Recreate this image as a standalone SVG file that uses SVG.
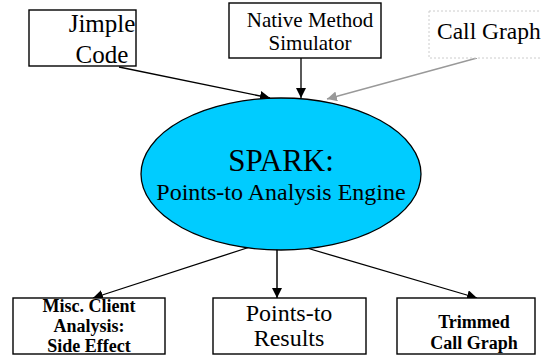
<svg xmlns="http://www.w3.org/2000/svg" width="541" height="356" viewBox="0 0 541 356">
<defs>
<style>
.box{fill:#fff;stroke:#000;stroke-width:1.4}
text{font-family:"Liberation Serif","Times New Roman",serif;fill:#000;text-anchor:middle}
text.st{text-anchor:start}
.b{font-weight:bold}
.edge{stroke:#000;stroke-width:1.3;fill:none}
</style>
<marker id="ah" viewBox="0 0 10 10" refX="10" refY="5" markerWidth="10" markerHeight="10" markerUnits="userSpaceOnUse" orient="auto"><path d="M0,0 L10,5 L0,10 z" fill="#000"/></marker>
<marker id="ahg" viewBox="0 0 10 10" refX="10" refY="5" markerWidth="10" markerHeight="10" markerUnits="userSpaceOnUse" orient="auto"><path d="M0,0 L10,5 L0,10 z" fill="#999"/></marker>
</defs>
<rect width="541" height="356" fill="#fff"/>
<g id="connectors">
<line class="edge" x1="119" y1="67" x2="270" y2="98" marker-end="url(#ah)"/>
<line class="edge" x1="301" y1="58" x2="301" y2="98" marker-end="url(#ah)"/>
<line x1="477" y1="58" x2="327" y2="99" stroke="#999" stroke-width="1.3" marker-end="url(#ahg)"/>
<line class="edge" x1="253" y1="246" x2="93" y2="298" marker-end="url(#ah)"/>
<line x1="277" y1="246" x2="277" y2="298" stroke="#444" stroke-width="2" marker-end="url(#ah)"/>
<line class="edge" x1="300" y1="246" x2="477" y2="298" marker-end="url(#ah)"/>
</g>
<g id="jimple">
<rect class="box" x="29" y="10" width="107" height="56"/>
<text x="102" y="32" font-size="25">Jimple</text>
<text x="102" y="63" font-size="25">Code</text>
</g>
<g id="native">
<rect class="box" x="229" y="3" width="152" height="55"/>
<text x="310" y="27" font-size="21">Native Method</text>
<text x="310" y="50" font-size="21">Simulator</text>
</g>
<g id="callgraph">
<rect x="429" y="11" width="130" height="47" fill="#fff" stroke="#ccc" stroke-width="1" stroke-dasharray="2,2"/>
<text class="st" x="437" y="39" font-size="23.5">Call Graph</text>
</g>
<g id="spark">
<ellipse cx="281" cy="174" rx="140" ry="76" fill="#00ccff" stroke="#000" stroke-width="1.3"/>
<text x="281" y="171" font-size="31">SPARK:</text>
<text x="281" y="200" font-size="24">Points-to Analysis Engine</text>
</g>
<g id="misc">
<rect class="box" x="13" y="298" width="152" height="56"/>
<text class="b" x="89" y="312" font-size="18">Misc. Client</text>
<text class="b" x="89" y="332" font-size="18">Analysis:</text>
<text class="b" x="89" y="352" font-size="18">Side Effect</text>
</g>
<g id="pointsto">
<rect class="box" x="213" y="298" width="153" height="56"/>
<text x="289" y="321" font-size="24">Points-to</text>
<text x="289" y="346" font-size="24">Results</text>
</g>
<g id="trimmed">
<rect class="box" x="397" y="298" width="138" height="56"/>
<text class="b" x="474" y="328" font-size="18">Trimmed</text>
<text class="b" x="474" y="349" font-size="18">Call Graph</text>
</g>
</svg>
